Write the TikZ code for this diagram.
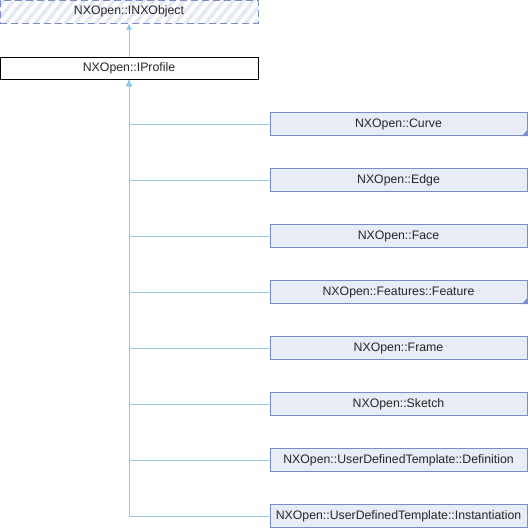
\documentclass[tikz,border=0pt]{standalone}
\usepackage{fontspec}
\setmainfont{Liberation Sans}
\usetikzlibrary{arrows.meta}
\definecolor{bordc}{HTML}{7A8CC8}
\definecolor{fillc}{HTML}{E8ECF6}
\definecolor{edgec}{HTML}{8DC8EA}
\definecolor{hatchc}{HTML}{E3E8F3}
\tikzset{
  box/.style={draw=bordc, fill=fillc, line width=1pt, minimum width=257pt, minimum height=23pt, inner sep=0pt, font=\fontsize{12.3}{14}\selectfont, text=black!85},
  plainbox/.style={draw=black, fill=white, line width=1pt, minimum width=258pt, minimum height=22pt, inner sep=0pt, font=\fontsize{12.3}{14}\selectfont, text=black!85},
  ifacebox/.style={draw=bordc, line width=1pt, dash pattern=on 7pt off 4pt, minimum width=258pt, minimum height=23pt, inner sep=0pt, font=\fontsize{12.3}{14}\selectfont, text=black!85},
  edge/.style={draw=edgec, line width=1pt, {Latex[length=6pt,width=6pt]}-},
  corner/.style={fill=bordc, draw=none}
}
\begin{document}
\begin{tikzpicture}[x=1pt,y=-1pt]
\useasboundingbox (0,0) rectangle (528,528);
% hatched interface box
\begin{scope}
\clip (0,0) rectangle (258,23);
\foreach \k in {-40,-30,...,300} {
  \draw[hatchc, line width=3.5pt] (\k,30) -- (\k+30,-7);
}
\end{scope}
\node[ifacebox] (inx) at (129,11.5) {NXOpen::INXObject};
\node[plainbox] (ip) at (129,68.5) {NXOpen::IProfile};
\draw[edge] (inx.south) -- (ip.north);

\node[box] (c1) at (398.5,124) {NXOpen::Curve};
\node[box] (c2) at (398.5,180) {NXOpen::Edge};
\node[box] (c3) at (398.5,236) {NXOpen::Face};
\node[box] (c4) at (398.5,292) {NXOpen::Features::Feature};
\node[box] (c5) at (398.5,348) {NXOpen::Frame};
\node[box] (c6) at (398.5,404) {NXOpen::Sketch};
\node[box] (c7) at (398.5,460) {NXOpen::UserDefinedTemplate::Definition};
\node[box] (c8) at (398.5,516) {NXOpen::UserDefinedTemplate::Instantiation};

\foreach \c in {c1,c2,c3,c4,c5,c6,c7,c8} {
  \draw[edge] (ip.south) |- (\c.west);
}
\fill[corner] (c1.south east) -- ++(-6,0) -- ++(6,-6) -- cycle;
\fill[corner] (c4.south east) -- ++(-6,0) -- ++(6,-6) -- cycle;
\end{tikzpicture}
\end{document}
